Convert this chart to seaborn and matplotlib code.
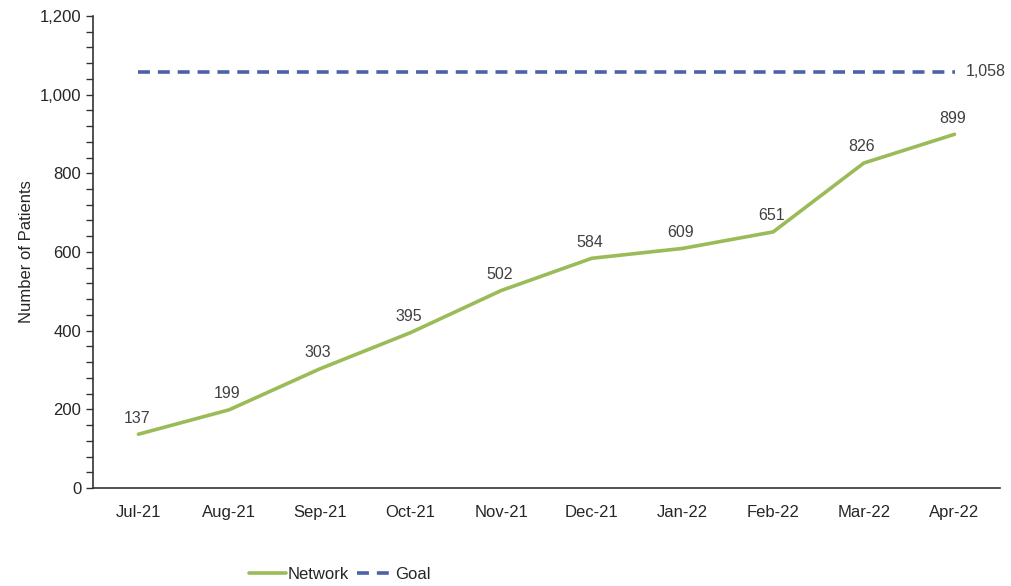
import numpy as np
import pandas as pd
import seaborn as sns
import matplotlib.pyplot as plt
from matplotlib.ticker import MultipleLocator, FuncFormatter

# Data
months = ['Jul-21', 'Aug-21', 'Sep-21', 'Oct-21', 'Nov-21',
          'Dec-21', 'Jan-22', 'Feb-22', 'Mar-22', 'Apr-22']
network = [137, 199, 303, 395, 502, 584, 609, 651, 826, 899]
goal = [1058] * len(months)

df = pd.DataFrame({'Month': months, 'Network': network, 'Goal': goal})
df['pos'] = np.arange(len(months))

sns.set_theme(style='white')
plt.rcParams['font.family'] = ['Liberation Sans', 'DejaVu Sans']

fig = plt.figure(figsize=(10.12, 5.86), dpi=100)
ax = fig.add_axes([0.092, 0.167, 0.896, 0.806])

sns.lineplot(data=df, x='pos', y='Network', ax=ax, color='#9BBB59',
             linewidth=2.6, label='Network')
sns.lineplot(data=df, x='pos', y='Goal', ax=ax, color='#4B62A6',
             linewidth=2.6, linestyle=(0, (3.3, 2.2)), label='Goal')

# value labels
for x, v in zip(df['pos'], network):
    ax.text(x - 0.02, v + 22, f'{v:,}', ha='center', va='bottom',
            fontsize=11.5, color='#404040')
ax.text(len(months) - 1 + 0.12, goal[-1], f'{goal[-1]:,}', ha='left',
        va='center', fontsize=11.5, color='#404040')

ax.set_xlim(-0.5, len(months) - 0.5)
ax.set_ylim(0, 1200)
ax.set_xticks(np.arange(len(months)))
ax.set_xticklabels(months)
ax.set_xticks(np.arange(len(months) + 1) - 0.5, minor=True)
ax.tick_params(axis='x', which='major', length=0, pad=12, labelsize=12)
ax.tick_params(axis='x', which='minor', length=5, direction='inout',
               width=1, color='#333333')
ax.yaxis.set_major_locator(MultipleLocator(200))
ax.yaxis.set_minor_locator(MultipleLocator(40))
ax.yaxis.set_major_formatter(FuncFormatter(lambda v, p: f'{int(v):,}'))
ax.tick_params(axis='y', which='both', left=True, length=5, width=1,
               color='#333333', labelsize=12)
ax.set_xlabel('')
ax.set_ylabel('Number of Patients', fontsize=12)

for s in ['top', 'right']:
    ax.spines[s].set_visible(False)
for s in ['left', 'bottom']:
    ax.spines[s].set_color('#333333')
    ax.spines[s].set_linewidth(1.2)

ax.legend(loc='center', bbox_to_anchor=(0.272, -0.182), ncol=2,
          frameon=False, fontsize=12, handlelength=2.2,
          columnspacing=0.5, handletextpad=0.1)

fig.savefig('out.png', dpi=100)
